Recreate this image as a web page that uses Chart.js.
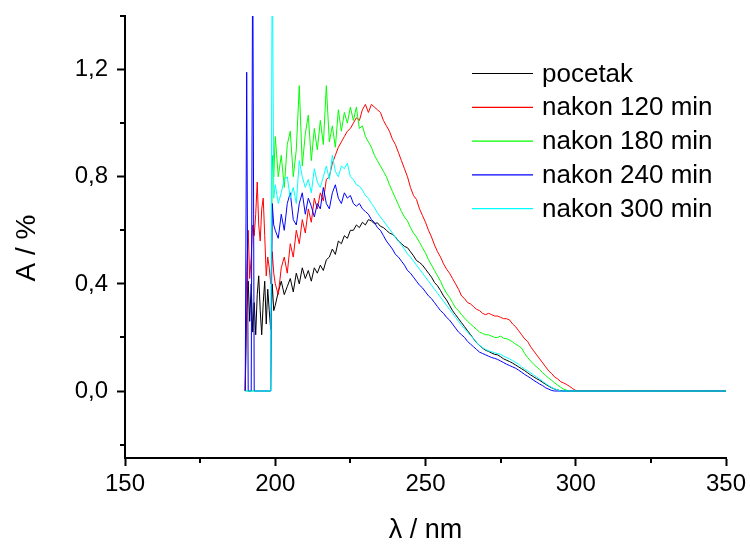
<!DOCTYPE html>
<html>
<head>
<meta charset="utf-8">
<script src="https://cdn.jsdelivr.net/npm/chart.js@4.4.1/dist/chart.umd.min.js"></script>
<style>
html,body{margin:0;padding:0;background:#fff;}
canvas{display:block;}
</style>
</head>
<body>
<canvas id="c" width="750" height="545"></canvas>
<script>
// ---- data ----
const wavelengths = [190,190.5,191,191.5,192,192.5,193,193.5,194,194.5,195,195.5,196,196.5,197,197.5,198,198.5,199,199.5,
200,201,202,203,204,205,206,207,208,209,210,211,212,213,214,215,216,217,218,219,
220,221,222,223,224,225,226,227,228,229,230,231,232,233,234,235,236,237,238,239,
240,241,242,243,244,245,246,247,248,249,250,251,252,253,254,255,256,257,258,259,
260,261,262,263,264,265,266,267,268,269,270,271,272,273,274,275,276,277,278,279,
280,281,282,283,284,285,286,287,288,289,290,291,292,293,294,295,296,297,298,299,300,350];

const seriesLabels = ["pocetak","nakon 120 min","nakon 180 min","nakon 240 min","nakon 300 min"];
const seriesColors = ["#000000","#ff0000","#00ff00","#0000ff","#00ffff"];

const pocetak = [0,0.3,0.41,0.26,0.4,0.22,0.33,0.21,0.36,0.43,0.3,0.21,0.33,0.41,0.25,0.38,0.3,0.23,0.4,0.3,
0.32,0.37,0.41,0.36,0.39,0.42,0.37,0.44,0.4,0.46,0.42,0.45,0.41,0.46,0.44,0.47,0.45,0.49,0.5,0.53,
0.51,0.56,0.55,0.58,0.57,0.6,0.6,0.62,0.61,0.63,0.62,0.64,0.635,0.625,0.628,0.615,0.61,0.6,0.59,0.585,
0.575,0.56,0.55,0.54,0.535,0.52,0.505,0.487,0.48,0.47,0.455,0.44,0.425,0.405,0.393,0.375,0.355,0.34,0.32,0.3,
0.285,0.27,0.255,0.24,0.225,0.21,0.195,0.18,0.17,0.16,0.152,0.148,0.142,0.137,0.135,0.128,0.12,0.115,0.11,0.104,
0.097,0.09,0.083,0.076,0.068,0.06,0.053,0.046,0.04,0.032,0.025,0.018,0.012,0.007,0.004,0.001,0,0,0,0,0,0];

const nakon120 = [0,0.45,0.6,0.42,0.5,0.62,0.58,0.66,0.78,0.62,0.56,0.68,0.72,0.58,0.43,0.5,0.46,0.4,0.52,0.44,
0.4,0.36,0.46,0.5,0.44,0.55,0.5,0.6,0.55,0.64,0.59,0.68,0.63,0.72,0.68,0.74,0.71,0.79,0.8,0.85,
0.88,0.91,0.93,0.95,0.97,0.98,1.0,1.02,1.01,1.05,1.07,1.04,1.07,1.06,1.05,1.04,1.01,0.99,0.97,0.94,
0.92,0.89,0.86,0.83,0.8,0.76,0.73,0.715,0.68,0.655,0.63,0.6,0.575,0.545,0.52,0.5,0.475,0.455,0.44,0.42,
0.4,0.38,0.355,0.345,0.33,0.325,0.315,0.305,0.3,0.29,0.285,0.29,0.285,0.28,0.28,0.275,0.27,0.27,0.265,0.25,
0.24,0.225,0.21,0.195,0.185,0.165,0.15,0.135,0.12,0.105,0.09,0.075,0.065,0.052,0.045,0.035,0.03,0.024,0.017,0.009,0.002,0];

const nakon180 = [0,0,0,0,0,0,0,0,0,0,0,0,0,0,0,0,0,0,0.88,0.8,
0.95,0.8,0.88,0.76,0.92,0.97,0.8,0.9,1.14,0.84,0.96,1.03,0.86,0.98,0.9,1.01,0.92,1.14,0.93,0.99,
0.91,1.05,0.97,1.04,1.0,1.06,1.01,1.06,0.98,0.99,0.95,0.93,0.91,0.88,0.86,0.84,0.82,0.8,0.77,0.745,
0.72,0.695,0.67,0.65,0.635,0.61,0.59,0.575,0.555,0.535,0.515,0.49,0.47,0.45,0.43,0.41,0.385,0.365,0.35,0.33,
0.31,0.3,0.285,0.272,0.26,0.25,0.24,0.23,0.22,0.215,0.21,0.21,0.205,0.2,0.2,0.205,0.197,0.195,0.19,0.183,
0.175,0.168,0.16,0.14,0.125,0.112,0.1,0.09,0.08,0.068,0.058,0.048,0.04,0.03,0.022,0.014,0.007,0.003,0,0,0,0];

const nakon240 = [0,1.19,0,0,0,1.7,0,0,0,0,0,0,0,0,0,0,0,0,0.7,0.62,
0.6,0.57,0.66,0.6,0.7,0.74,0.64,0.62,0.7,0.74,0.66,0.72,0.69,0.65,0.7,0.68,0.76,0.7,0.68,0.74,
0.77,0.72,0.7,0.74,0.72,0.73,0.7,0.69,0.7,0.68,0.67,0.66,0.64,0.63,0.61,0.6,0.58,0.56,0.545,0.53,
0.51,0.5,0.485,0.47,0.45,0.44,0.425,0.41,0.395,0.385,0.37,0.355,0.345,0.33,0.315,0.3,0.29,0.275,0.265,0.25,
0.235,0.22,0.21,0.2,0.185,0.175,0.165,0.155,0.145,0.14,0.135,0.13,0.125,0.122,0.118,0.112,0.106,0.1,0.095,0.09,
0.085,0.078,0.07,0.062,0.055,0.048,0.04,0.033,0.026,0.02,0.012,0.007,0.002,0,0,0,0,0,0,0,0,0];

const nakon300 = [0,0,0,0,0,0,0,0,0,0,0,0,0,0,0,0,0,0,1.7,0.72,
0.77,0.7,0.74,0.79,0.8,0.72,0.76,0.7,0.86,0.8,0.76,0.79,0.74,0.83,0.78,0.76,0.8,0.84,0.79,0.88,
0.82,0.8,0.84,0.83,0.85,0.8,0.79,0.77,0.765,0.75,0.73,0.72,0.7,0.685,0.665,0.65,0.635,0.62,0.605,0.59,
0.572,0.56,0.545,0.53,0.512,0.5,0.485,0.47,0.455,0.44,0.425,0.41,0.395,0.38,0.365,0.35,0.335,0.32,0.305,0.29,
0.275,0.26,0.245,0.232,0.22,0.207,0.195,0.182,0.17,0.162,0.155,0.15,0.147,0.143,0.14,0.137,0.13,0.125,0.12,0.113,
0.107,0.1,0.09,0.082,0.075,0.068,0.06,0.052,0.045,0.036,0.028,0.02,0.013,0.008,0.004,0,0,0,0,0,0,0];

const seriesValues = [pocetak, nakon120, nakon180, nakon240, nakon300];

const xTicksMajor = [150,200,250,300,350];
const xTicksMinor = [175,225,275,325];
const yTicksMajor = [0,0.4,0.8,1.2];
const yTicksMinor = [-0.2,0.2,0.6,1.0,1.4];

const FONT = '"Liberation Sans", Arial, Helvetica, sans-serif';
Chart.defaults.font.family = FONT;
Chart.defaults.color = '#000';

const datasets = seriesValues.map((vals, i) => ({
  label: seriesLabels[i],
  data: wavelengths.map((w, j) => ({x: w, y: vals[j]})),
  borderColor: seriesColors[i],
  backgroundColor: seriesColors[i],
  borderWidth: 1,
  pointRadius: 0,
  tension: 0,
  fill: false,
  order: seriesValues.length - i
}));

const extras = {
  id: 'extras',
  afterDraw(chart) {
    const {ctx, chartArea, scales} = chart;
    const xs = scales.x, ys = scales.y;
    ctx.save();
    ctx.strokeStyle = '#000';
    ctx.lineWidth = 2;
    // minor ticks
    yTicksMinor.forEach(v => {
      const p = Math.round(ys.getPixelForValue(v));
      ctx.beginPath(); ctx.moveTo(chartArea.left - 5, p); ctx.lineTo(chartArea.left, p); ctx.stroke();
    });
    xTicksMinor.forEach(v => {
      const p = Math.round(xs.getPixelForValue(v));
      ctx.beginPath(); ctx.moveTo(p, chartArea.bottom); ctx.lineTo(p, chartArea.bottom + 5); ctx.stroke();
    });
    // y title
    ctx.fillStyle = '#000';
    ctx.font = '28px ' + FONT;
    ctx.textAlign = 'center';
    ctx.textBaseline = 'middle';
    ctx.translate(27, 248);
    ctx.rotate(-Math.PI / 2);
    ctx.fillText('A / %', 0, 0);
    ctx.restore();
    // legend
    ctx.save();
    ctx.font = '26px ' + FONT;
    ctx.textAlign = 'left';
    ctx.textBaseline = 'middle';
    chart.data.datasets.forEach((ds, i) => {
      const yy = 73.5 + i * 33.8;
      ctx.strokeStyle = ds.borderColor;
      ctx.lineWidth = 1.2;
      ctx.beginPath(); ctx.moveTo(472, yy); ctx.lineTo(533, yy); ctx.stroke();
      ctx.fillStyle = '#000';
      ctx.fillText(ds.label, 542, yy + 1);
    });
    ctx.restore();
  }
};

new Chart(document.getElementById('c'), {
  type: 'line',
  data: { datasets },
  options: {
    responsive: false,
    animation: false,
    devicePixelRatio: 1,
    layout: { padding: { top: 16, right: 24, left: 0, bottom: 0 } },
    plugins: { legend: { display: false }, tooltip: { enabled: false } },
    scales: {
      x: {
        type: 'linear',
        min: 150, max: 350,
        afterFit: s => { s.height = 87; s.paddingLeft = 0; s.paddingRight = 0; },
        afterBuildTicks: s => { s.ticks = xTicksMajor.map(v => ({value: v})); },
        border: { display: true, color: '#000', width: 2 },
        grid: { display: true, drawOnChartArea: false, drawTicks: true, tickLength: 8, tickWidth: 2, tickColor: '#000' },
        ticks: { font: { size: 24 }, padding: 4, maxRotation: 0, autoSkip: false, color: '#000', callback: v => String(v) },
        title: { display: true, text: 'λ / nm', font: { size: 27, lineHeight: 1.1 }, padding: 0, color: '#000' }
      },
      y: {
        type: 'linear',
        min: -0.25, max: 1.4,
        afterFit: s => { s.width = 125; s.paddingTop = 0; s.paddingBottom = 0; },
        afterBuildTicks: s => { s.ticks = yTicksMajor.map(v => ({value: v})); },
        border: { display: true, color: '#000', width: 2 },
        grid: { display: true, drawOnChartArea: false, drawTicks: true, tickLength: 8, tickWidth: 2, tickColor: '#000' },
        ticks: { font: { size: 24 }, padding: 9, autoSkip: false, color: '#000', callback: v => v.toFixed(1).replace('.', ',') }
      }
    }
  },
  plugins: [extras]
});
</script>
</body>
</html>
